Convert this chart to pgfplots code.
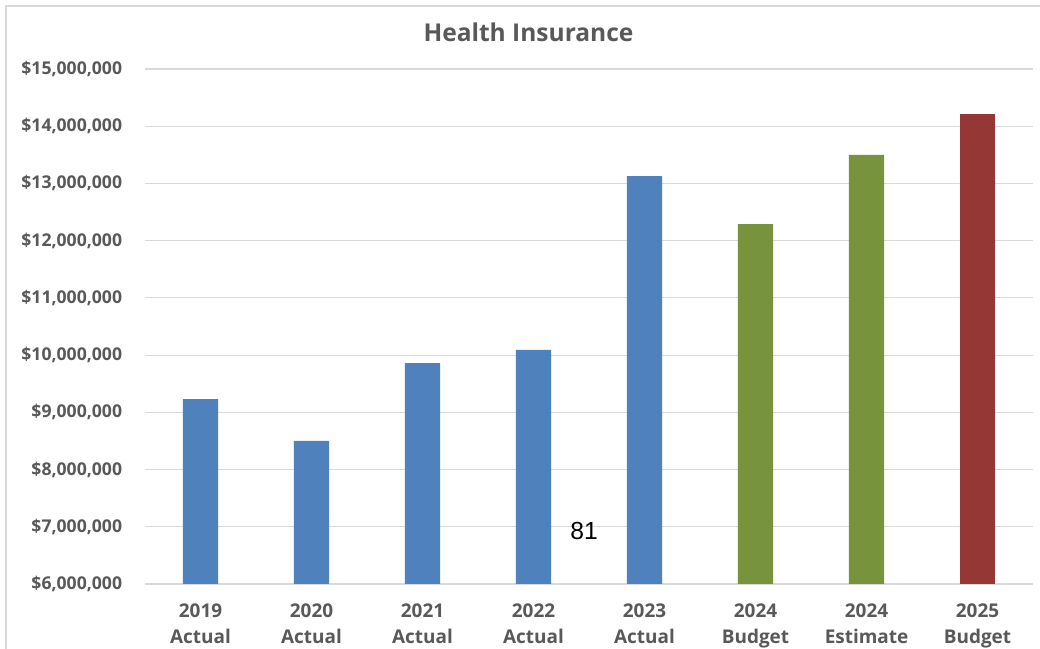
\documentclass[border=0pt]{standalone}
\usepackage{fontspec}
\setmainfont{Open Sans}
\newfontfamily\numfont{Liberation Sans}
\usepackage{pgfplots}
\pgfplotsset{compat=1.18}
\definecolor{barblue}{HTML}{4F81BD}
\definecolor{bargreen}{HTML}{77933C}
\definecolor{barred}{HTML}{953735}
\definecolor{txtgray}{HTML}{595959}
\definecolor{gridgray}{HTML}{D9D9D9}
\begin{document}
\begin{tikzpicture}[x=0.75pt,y=0.75pt]
\path[use as bounding box, fill=white] (0,0) rectangle (1040,649);
\draw[gridgray, line width=1.2pt] (6,0) -- (6,643) -- (1040,643);
\begin{axis}[
  at={(108.75pt,48.75pt)}, anchor=south west,
  scale only axis, width=666pt, height=386.25pt,
  xmin=-0.5, xmax=7.5, ymin=6000000, ymax=15000000,
  axis line style={draw=none},
  ytick={6000000,7000000,8000000,9000000,10000000,11000000,12000000,13000000,14000000,15000000},
  yticklabels={{\$6,000,000},{\$7,000,000},{\$8,000,000},{\$9,000,000},{\$10,000,000},{\$11,000,000},{\$12,000,000},{\$13,000,000},{\$14,000,000},{\$15,000,000}},
  xtick={0,1,2,3,4,5,6,7},
  xticklabels={{2019\\Actual},{2020\\Actual},{2021\\Actual},{2022\\Actual},{2023\\Actual},{2024\\Budget},{2024\\Estimate},{2025\\Budget}},
  major tick length=0pt,
  ymajorgrids, grid style={gridgray, line width=0.9pt},
  yticklabel style={font=\fontsize{13.2}{15}\selectfont\bfseries, text=txtgray, anchor=east, inner sep=0pt, xshift=-17pt},
  xticklabel style={font=\fontsize{14.2}{19.5}\selectfont\bfseries, text=txtgray, align=center, anchor=north, inner sep=0pt, yshift=-15pt},
  scaled y ticks=false,
  clip=false,
]
\addplot[ybar, bar width=26.5pt, bar shift=0pt, fill=barblue, draw=none] coordinates {
  (0,9230000) (1,8500000) (2,9860000) (3,10090000) (4,13130000)
};
\addplot[ybar, bar width=26.5pt, bar shift=0pt, fill=bargreen, draw=none] coordinates {
  (5,12290000) (6,13500000)
};
\addplot[ybar, bar width=26.5pt, bar shift=0pt, fill=barred, draw=none] coordinates {
  (7,14220000)
};
\end{axis}
\node[text=txtgray, font=\fontsize{18.4}{20}\selectfont\bfseries, anchor=base] at (528.5,607) {Health Insurance};
\node[text=black, font=\numfont\fontsize{18.5}{20}\selectfont, anchor=center] at (584,118) {81};
\end{tikzpicture}
\end{document}
